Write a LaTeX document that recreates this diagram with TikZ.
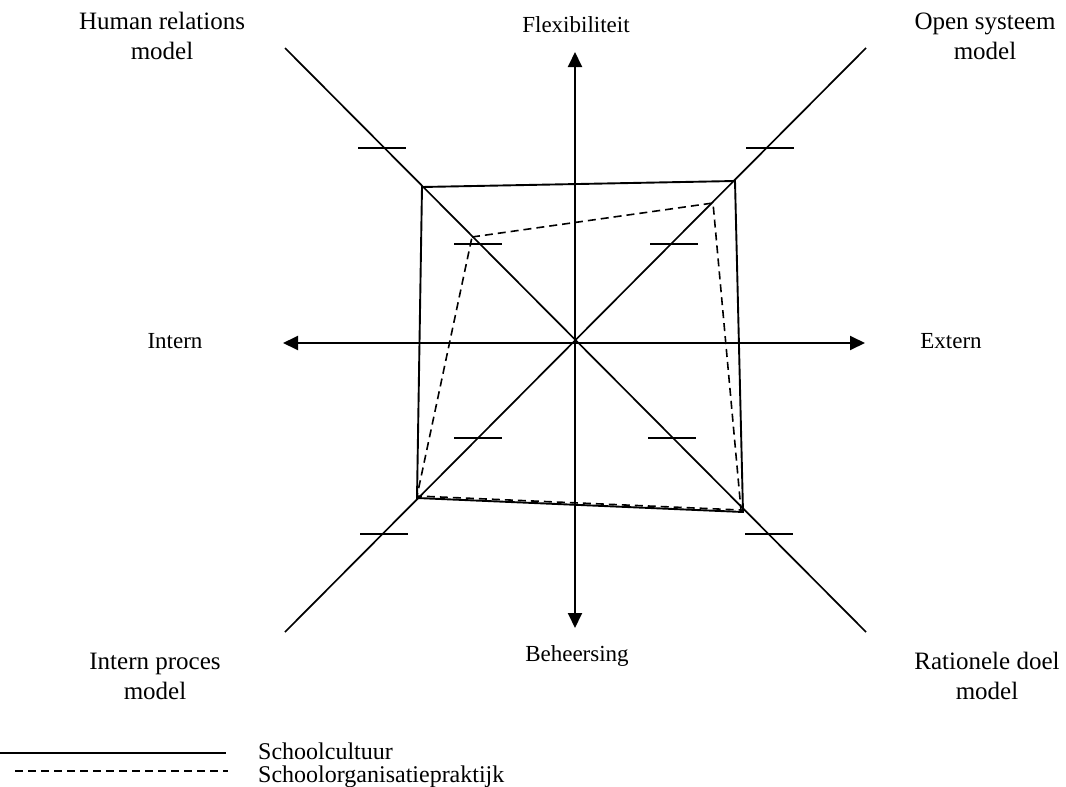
\documentclass[tikz,border=0pt]{standalone}
\usepackage{fontspec}
\setmainfont{Liberation Serif}
\usetikzlibrary{arrows.meta}
\begin{document}
\begin{tikzpicture}[x=1pt,y=-1pt,
  axis/.style={line width=1.9pt, arrows={Triangle[length=15pt,width=14pt]-Triangle[length=15pt,width=14pt]}},
  diag/.style={line width=1.7pt},
  tickmark/.style={line width=1.7pt},
  culture/.style={line width=1.9pt, line join=miter},
  practice/.style={line width=1.6pt, dash pattern=on 8pt off 5pt},
  corner/.style={font=\fontsize{25}{30}\selectfont, align=center, inner sep=0pt},
  axislabel/.style={font=\fontsize{23}{27}\selectfont, inner sep=0pt},
  legendtext/.style={font=\fontsize{24}{28}\selectfont, anchor=west, inner sep=0pt}]
\useasboundingbox (0,0) rectangle (1066,787);

% axis end points and diagonal end points
\coordinate (top) at (575,52);
\coordinate (bottom) at (575,628);
\coordinate (left) at (283,343);
\coordinate (right) at (865,343);
\coordinate (tl) at (285,48);
\coordinate (br) at (866,632);
\coordinate (tr) at (866,48);
\coordinate (bl) at (285,632);

% diagonals
\draw[diag] (tl) -- (br);
\draw[diag] (tr) -- (bl);

% scale marks on the diagonals
\foreach \cx/\cy in {382/148, 478/244, 770/148, 674/244, 478/438, 384/534, 672/438, 769/534}
  \draw[tickmark] (\cx-24,\cy) -- (\cx+24,\cy);

% axes
\draw[axis] (bottom) -- (top);
\draw[axis] (left) -- (right);

% school culture profile
\coordinate (c1) at (422,187);
\coordinate (c2) at (735,181);
\coordinate (c3) at (743,512);
\coordinate (c4) at (417,498);
\draw[culture] (c1) -- (c2) -- (c3) -- (c4) -- cycle;

% school organisation practice profile
\coordinate (p1) at (472,237);
\coordinate (p2) at (713,203);
\coordinate (p3) at (741,510);
\coordinate (p4) at (417,496);
\draw[practice] (p1) -- (p2) -- (p3) -- (p4) -- cycle;

% labels
\node[corner] (hrm) at (162,36) {Human relations\\model};
\node[corner] (osm) at (985,36) {Open systeem\\model};
\node[corner] (ipm) at (155,676) {Intern proces\\model};
\node[corner] (rdm) at (987,676) {Rationele doel\\model};
\node[axislabel] (flex) at (576,25) {Flexibiliteit};
\node[axislabel] (beh) at (577,656) {Beheersing};
\node[axislabel] (int) at (175,341) {Intern};
\node[axislabel] (ext) at (951,341) {Extern};

% legend
\coordinate (l1a) at (0,753);
\coordinate (l1b) at (226,753);
\coordinate (l2a) at (15,771);
\coordinate (l2b) at (228,771);
\draw[line width=1.7pt] (l1a) -- (l1b);
\draw[line width=1.5pt, dash pattern=on 8pt off 5pt] (l2a) -- (l2b);
\node[legendtext] (leg1) at (258,751) {Schoolcultuur};
\node[legendtext] (leg2) at (258,777) {Schoolorganisatiepraktijk};
\end{tikzpicture}
\end{document}
